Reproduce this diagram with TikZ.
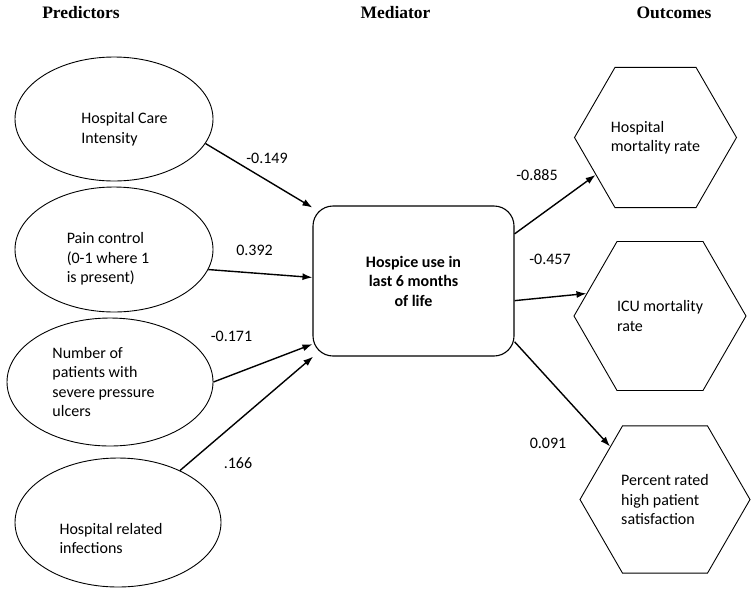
\documentclass[tikz,border=0pt]{standalone}
\usepackage{fontspec}
\setmainfont{Carlito}
\newfontfamily\headfont{Liberation Serif}
\usetikzlibrary{shapes.geometric,arrows.meta}

\begin{document}
\begin{tikzpicture}[x=1pt,y=-1pt,>={Latex[length=10pt,width=7pt]},
  pred/.style={draw,ellipse,line width=0.9pt,inner sep=0pt},
  outc/.style={draw,regular polygon,regular polygon sides=6,line width=0.9pt,inner sep=0pt,
    align=left,font=\fontsize{16}{19.5}\selectfont},
  txt/.style={align=left,font=\fontsize{16}{19.5}\selectfont},
  num/.style={font=\fontsize{16}{19.5}\selectfont},
  head/.style={anchor=base,font=\headfont\bfseries\fontsize{17.5}{20}\selectfont},
  path/.style={->,line width=1.4pt}]
  \useasboundingbox (0,0) rectangle (754,595);

  % column titles
  \node[head] (t1) at (81,18) {Predictors};
  \node[head] (t2) at (395.5,18) {Mediator};
  \node[head] (t3) at (674,18) {Outcomes};

  % predictors
  \node[pred, minimum width=198pt, minimum height=124pt] (care) at (114,119) {};
  \node[pred, minimum width=198pt, minimum height=125pt] (pain) at (114,249.5) {};
  \node[pred, minimum width=206pt, minimum height=128pt] (ulcer) at (110,382) {};
  \node[pred, minimum width=206pt, minimum height=129pt] (infect) at (118,522.5) {};
  \node[txt] (care-t) at ([shift={(10.5,10)}]care.center) {Hospital Care\\Intensity};
  \node[txt] (pain-t) at ([shift={(-6,9.5)}]pain.center) {Pain control\\(0-1 where 1\\is present)};
  \node[txt] (ulcer-t) at ([shift={(-6.5,0)}]ulcer.center) {Number of\\patients with\\severe pressure\\ulcers};
  \node[txt] (infect-t) at ([shift={(-7,16)}]infect.center) {Hospital related\\infections};

  % mediator
  \node[draw, rectangle, rounded corners=20pt, line width=1.1pt, minimum width=201pt, minimum height=150pt,
    align=center, font=\bfseries\fontsize{16}{19.5}\selectfont] (hospice) at (413.5,281)
    {Hospice use in\\last 6 months\\of life};

  % outcomes
  \node[outc, minimum size=162pt] (mort) at (655.5,137.5) {Hospital\\mortality rate};
  \node[outc, minimum size=172pt] (icu) at (660,316) {ICU mortality\\rate};
  \node[outc, minimum size=170pt] (satis) at (665,499.5) {Percent rated\\high patient\\satisfaction};

  % paths
  \draw[path] (care.-15) -- (hospice.144);
  \draw[path] (pain.-12) -- (hospice.178);
  \draw[path] (ulcer.east) -- (hospice.212);
  \draw[path] (infect.40) -- (hospice.217);
  \draw[path] (hospice.25) -- (mort.212);
  \draw[path] (hospice.-11) -- (icu.163);
  \draw[path] (hospice.-31) -- (satis.136);

  % coefficients
  \node[num] (c1) at (267,158) {-0.149};
  \node[num] (c2) at (254.5,250) {0.392};
  \node[num] (c3) at (231.5,336) {-0.171};
  \node[num] (c4) at (238,463) {.166};
  \node[num] (c5) at (537,175.5) {-0.885};
  \node[num] (c6) at (550,259) {-0.457};
  \node[num] (c7) at (548,443) {0.091};
\end{tikzpicture}
\end{document}
